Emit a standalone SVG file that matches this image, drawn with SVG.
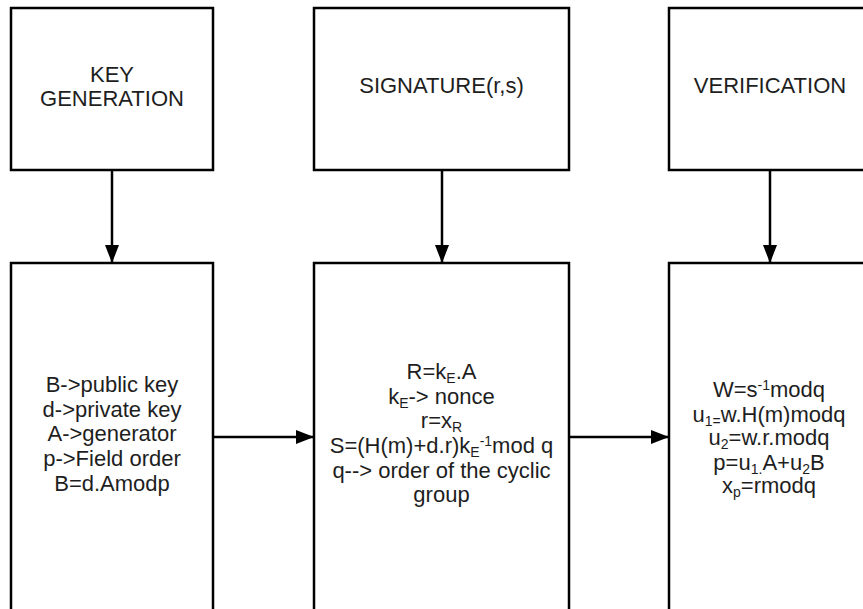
<svg xmlns="http://www.w3.org/2000/svg" width="863" height="609" viewBox="0 0 863 609">
<defs>
<style>
.box{fill:#fff;stroke:#000;stroke-width:2.5}
.t{font-family:"Liberation Sans",Arial,sans-serif;font-size:22px;fill:#1e1e1e;text-anchor:middle}
.s{font-size:14px}
.c{stroke:#000;stroke-width:2.5;fill:none}
</style>
<marker id="ah" markerUnits="userSpaceOnUse" viewBox="0 0 18 14" refX="18" refY="7" markerWidth="18" markerHeight="14" orient="auto">
<path d="M0,0 L18,7 L0,14 z" fill="#000"/>
</marker>
</defs>
<rect width="863" height="609" fill="#fff"/>
<g id="connectors">
<line class="c" x1="112" y1="170" x2="112" y2="263" marker-end="url(#ah)"/>
<line class="c" x1="442" y1="170" x2="442" y2="263" marker-end="url(#ah)"/>
<line class="c" x1="770" y1="170" x2="770" y2="263" marker-end="url(#ah)"/>
<line class="c" x1="213" y1="437" x2="314" y2="437" marker-end="url(#ah)"/>
<line class="c" x1="569" y1="437" x2="669" y2="437" marker-end="url(#ah)"/>
</g>
<g id="keygen">
<rect class="box" x="11" y="8" width="202" height="162"/>
<text class="t" x="112" y="82">KEY</text>
<text class="t" x="112" y="106">GENERATION</text>
</g>
<g id="signature">
<rect class="box" x="314" y="8" width="255" height="162"/>
<text class="t" x="441.5" y="93">SIGNATURE(r,s)</text>
</g>
<g id="verification">
<rect class="box" x="669" y="8" width="203" height="162"/>
<text class="t" x="770" y="93">VERIFICATION</text>
</g>
<g id="keygen-details">
<rect class="box" x="11" y="263" width="202" height="360"/>
<text class="t" x="112" y="392">B-&gt;public key</text>
<text class="t" x="112" y="417">d-&gt;private key</text>
<text class="t" x="112" y="441">A-&gt;generator</text>
<text class="t" x="112" y="466">p-&gt;Field order</text>
<text class="t" x="112" y="491">B=d.Amodp</text>
</g>
<g id="signature-details">
<rect class="box" x="314" y="263" width="255" height="360"/>
<text class="t" x="441.5" y="379">R=k<tspan class="s" dy="4">E</tspan><tspan dy="-4">.A</tspan></text>
<text class="t" x="441.5" y="404">k<tspan class="s" dy="4">E</tspan><tspan dy="-4">-&gt; nonce</tspan></text>
<text class="t" x="441.5" y="428">r=x<tspan class="s" dy="4">R</tspan></text>
<text class="t" x="441.5" y="453">S=(H(m)+d.r)k<tspan class="s" dy="4">E</tspan><tspan class="s" dy="-11">-1</tspan><tspan dy="7">mod q</tspan></text>
<text class="t" x="441.5" y="478">q--&gt; order of the cyclic</text>
<text class="t" x="441.5" y="502">group</text>
</g>
<g id="verification-details">
<rect class="box" x="669" y="263" width="203" height="360"/>
<text class="t" x="769" y="397">W=s<tspan class="s" dy="-7">-1</tspan><tspan dy="7">modq</tspan></text>
<text class="t" x="769" y="422">u<tspan class="s" dy="4">1=</tspan><tspan dy="-4">w.H(m)modq</tspan></text>
<text class="t" x="769" y="445">u<tspan class="s" dy="4">2</tspan><tspan dy="-4">=w.r.modq</tspan></text>
<text class="t" x="769" y="470">p=u<tspan class="s" dy="4">1.</tspan><tspan dy="-4">A+u</tspan><tspan class="s" dy="4">2</tspan><tspan dy="-4">B</tspan></text>
<text class="t" x="769" y="493">x<tspan class="s" dy="4">p</tspan><tspan dy="-4">=rmodq</tspan></text>
</g>
</svg>
